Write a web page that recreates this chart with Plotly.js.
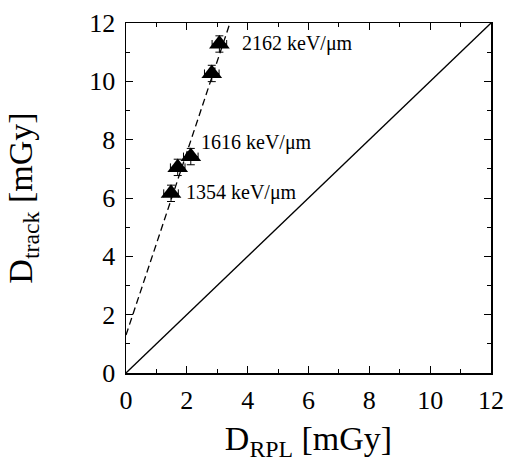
<!DOCTYPE html>
<html><head><meta charset="utf-8">
<script src="https://cdn.plot.ly/plotly-3.0.1.min.js"></script>
<style>html,body{margin:0;padding:0;background:#fff}#chart{width:509px;height:466px}</style>
</head><body><div id="chart"></div>
<script>
// measured points
const dRPL   = [1.48, 1.70, 2.13, 2.82, 3.07];
const dTrack = [6.16, 7.05, 7.42, 10.27, 11.28];
const errX   = [0.24, 0.24, 0.24, 0.24, 0.24];
const errY   = [0.28, 0.28, 0.28, 0.28, 0.28];
// fitted dashed line end points
const fitX = [0, 3.45];
const fitY = [1.3, 12.1];
// identity line
const idX = [0, 12];
const idY = [0, 12];
// LET labels
const labelText = ['1354 keV/\u03bcm', '1616 keV/\u03bcm', '2162 keV/\u03bcm'];
const labelX = [1.9, 2.4, 3.75];
const labelY = [6.2, 7.9, 11.3];

const serif = "'Liberation Serif', 'Times New Roman', serif";
const traces = [
  {x: idX, y: idY, mode: 'lines', line: {color: '#000', width: 1.3}, hoverinfo: 'skip'},
  {x: fitX, y: fitY, mode: 'lines', line: {color: '#000', width: 1.3, dash: '7px,4px'}, hoverinfo: 'skip'},
  {x: dRPL, y: dTrack, mode: 'markers',
   marker: {symbol: 'triangle-up', size: 18, color: '#000'},
   error_x: {type: 'data', array: errX, color: '#000', thickness: 1, width: 4},
   error_y: {type: 'data', array: errY, color: '#000', thickness: 1, width: 4}}
];
const axisBase = {
  range: [0, 12], dtick: 2, tick0: 0, ticks: 'inside', ticklen: 7, tickwidth: 1, tickcolor: '#000',
  showline: true, linecolor: '#000', linewidth: 1.5, mirror: 'allticks', showgrid: false, zeroline: false,
  minor: {ticks: 'inside', dtick: 1, ticklen: 4, tickwidth: 1, tickcolor: '#000', showgrid: false},
  tickfont: {family: serif, size: 26, color: '#000'}, fixedrange: true
};
const layout = {
  width: 509, height: 466, showlegend: false,
  paper_bgcolor: '#fff', plot_bgcolor: '#fff',
  margin: {l: 126, r: 18, t: 23, b: 93},
  xaxis: Object.assign({}, axisBase, {
    ticklabelstandoff: 3,
    title: {text: 'D<sub>RPL</sub> [mGy]', font: {family: serif, size: 34, color: '#000'}, standoff: 12}
  }),
  yaxis: Object.assign({}, axisBase, {
    ticklabelstandoff: 4,
    title: {text: 'D<sub>track</sub> [mGy]', font: {family: serif, size: 34, color: '#000'}, standoff: 46}
  }),
  annotations: labelText.map((t, i) => ({
    x: labelX[i], y: labelY[i], text: t, showarrow: false, xanchor: 'left',
    font: {family: serif, size: 20, color: '#000'}
  }))
};
Plotly.newPlot('chart', traces, layout, {displayModeBar: false, staticPlot: true});
</script></body></html>
